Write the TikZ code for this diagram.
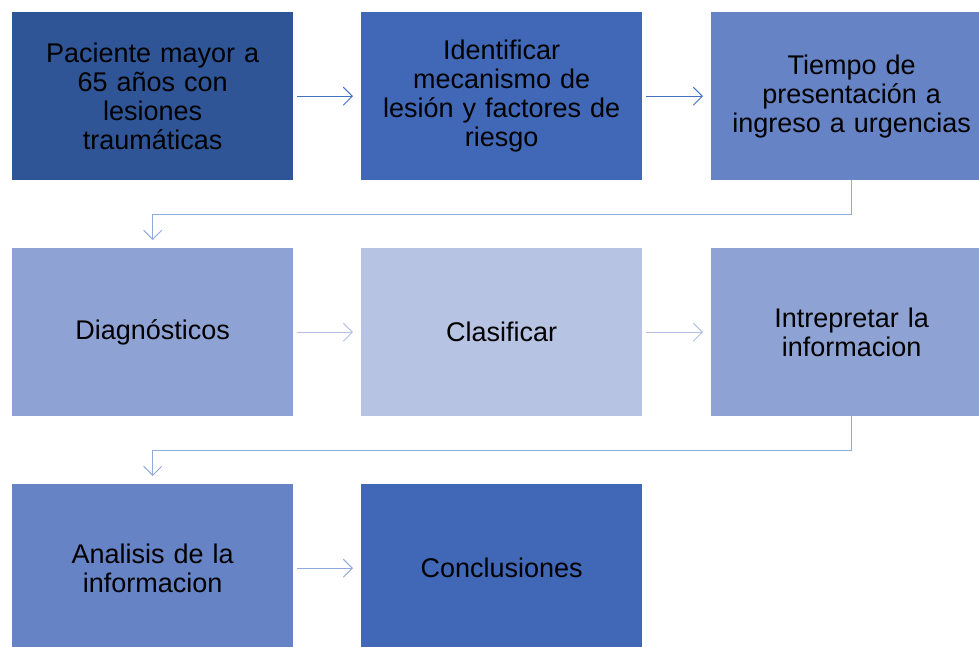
\documentclass[tikz,border=0pt]{standalone}
\usepackage{fontspec}
\setmainfont{Liberation Sans}
\usetikzlibrary{arrows.meta}
\definecolor{cA}{HTML}{2F5597}
\definecolor{cB}{HTML}{4068B7}
\definecolor{cC}{HTML}{6683C6}
\definecolor{cD}{HTML}{8FA2D4}
\definecolor{cE}{HTML}{B7C3E3}
\definecolor{aA}{HTML}{4472C4}
\definecolor{aB}{HTML}{B4C1E3}
\definecolor{aC}{HTML}{8FAADC}
\begin{document}
\begin{tikzpicture}[x=1pt,y=-1pt,
  box/.style={minimum width=281pt,minimum height=168pt,inner sep=0pt,anchor=north west,
    align=center,font=\fontsize{27}{29}\selectfont,text width=260pt},
  arr/.style={-{Straight Barb[length=9pt,width=18pt,line width=1pt]},line width=1pt},
  ]
\clip (0,0) rectangle (979,647);
\useasboundingbox (0,0) rectangle (979,647);
\fill[white] (0,0) rectangle (979,647);
\node[box,fill=cA] (b1) at (12,12) {Paciente mayor a\\65 años con\\lesiones\\traumáticas};
\node[box,fill=cB] (b2) at (361,12) {Identificar\\mecanismo de\\lesión y factores de\\riesgo};
\node[box,fill=cC] (b3) at (711,12) {Tiempo de\\presentación a\\ingreso a urgencias};
\node[box,fill=cD] (b4) at (12,248) {Diagnósticos};
\node[box,fill=cE] (b5) at (361,248) {Clasificar};
\node[box,fill=cD] (b6) at (711,248) {Intrepretar la\\informacion};
\node[box,fill=cC] (b7) at (12,484) {Analisis de la\\informacion};
\node[box,fill=cB] (b8) at (361,484) {Conclusiones};

\draw[arr,aA] ([xshift=4pt]b1.east) -- ([xshift=-8pt]b2.west);
\draw[arr,aA] ([xshift=4pt]b2.east) -- ([xshift=-8pt]b3.west);
\draw[arr,aB] ([xshift=4pt]b4.east) -- ([xshift=-8pt]b5.west);
\draw[arr,aB] ([xshift=4pt]b5.east) -- ([xshift=-8pt]b6.west);
\draw[arr,aC] ([xshift=4pt]b7.east) -- ([xshift=-8pt]b8.west);
\draw[arr,aC] (b3.south) -- ++(0,34) -| ([yshift=8pt]b4.north);
\draw[arr,aC] (b6.south) -- ++(0,34) -| ([yshift=8pt]b7.north);
\end{tikzpicture}
\end{document}
